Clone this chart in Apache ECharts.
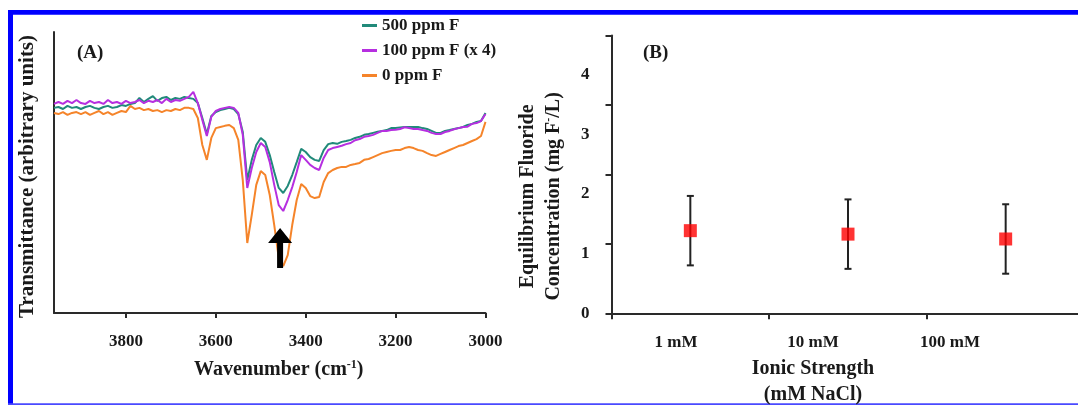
<!DOCTYPE html>
<html>
<head>
<meta charset="utf-8">
<script src="https://cdn.jsdelivr.net/npm/echarts@6/dist/echarts.min.js"></script>
<style>
html,body{margin:0;padding:0;background:#fff;}
#c{width:1078px;height:405px;}
</style>
</head>
<body>
<div id="c"></div>
<script>
// ---------- Panel A: IR spectra ----------
const wavenumbers = [3960,3950,3940,3930,3920,3910,3900,3890,3880,3870,3860,3850,3840,3830,3820,3810,3800,3790,3780,3770,3760,3750,3740,3730,3720,3710,3700,3690,3680,3670,3660,3650,3640,3630,3620,3610,3600,3590,3580,3570,3560,3550,3540,3530,3520,3510,3500,3490,3480,3470,3460,3450,3440,3430,3420,3410,3400,3390,3380,3370,3360,3350,3340,3330,3320,3310,3300,3290,3280,3270,3260,3250,3240,3230,3220,3210,3200,3190,3180,3170,3160,3150,3140,3130,3120,3110,3100,3090,3080,3070,3060,3050,3040,3030,3020,3010,3000];

const ppm500 = [73.0,73.3,72.6,73.7,73.0,73.3,72.6,73.3,73.7,73.0,
72.6,73.3,73.7,73.0,73.3,74.0,73.7,74.4,74.7,76.5,
75.1,76.2,77.2,75.5,76.5,76.9,75.8,76.5,76.2,76.9,
76.5,76.2,74.7,69.4,63.7,70.1,71.5,72.2,72.6,73.0,
72.6,70.8,64.4,47.3,54.5,59.8,62.3,60.9,56.2,50.2,
44.5,42.7,45.2,49.1,53.7,58.4,57.3,55.5,54.5,54.1,
58.0,60.1,60.5,60.2,60.9,61.2,61.6,62.3,62.7,63.4,
63.7,64.1,64.5,64.8,65.1,65.8,65.8,66.0,66.2,66.2,
66.2,66.2,65.8,65.5,64.8,64.1,64.1,64.8,65.1,65.5,
65.8,66.2,66.9,67.3,68.0,68.3,71.2];

const ppm100x4 = [74.4,75.1,74.4,75.5,74.7,75.8,74.7,74.4,75.5,74.7,
75.1,74.4,75.8,74.7,75.1,74.4,75.5,74.7,75.1,75.8,
74.7,75.5,75.1,75.8,74.7,76.2,75.1,75.8,75.5,76.2,
76.9,78.7,74.7,68.7,63.0,69.8,71.9,72.6,73.0,73.3,
73.0,71.2,63.4,44.5,51.6,57.3,60.5,59.1,53.7,45.6,
38.4,36.3,40.2,44.8,50.2,56.2,54.5,52.7,51.6,50.9,
55.2,58.0,58.7,59.1,59.5,60.1,60.5,61.5,61.9,62.7,
63.0,63.4,64.1,64.8,64.8,65.1,65.2,65.5,66.1,65.8,
65.5,65.5,65.1,64.8,64.1,63.7,63.7,64.4,64.8,65.4,
65.8,66.2,66.3,67.3,67.6,68.3,70.8];

const ppm0 = [71.2,70.8,71.5,70.5,71.2,71.5,70.8,71.5,70.5,71.2,
71.9,70.8,71.5,70.5,71.2,71.9,71.5,73.7,72.6,73.0,
72.2,72.6,71.9,72.2,71.5,72.2,71.9,72.6,72.2,73.0,
73.0,72.6,69.4,59.8,54.5,62.3,65.8,66.2,66.6,66.9,
65.8,61.6,47.3,24.9,34.9,45.6,50.5,49.1,42.0,31.3,
19.6,16.7,20.6,31.3,40.2,45.9,44.5,41.6,40.9,41.3,
46.6,49.8,50.9,51.6,52.0,52.0,52.7,53.0,53.4,54.5,
54.8,55.5,56.2,56.9,57.3,57.7,58.0,58.0,58.7,59.1,
58.7,58.0,57.7,56.9,56.2,55.9,56.6,57.3,58.0,58.7,
59.4,59.8,60.5,61.2,61.9,63.0,68.0];

const xTicksA = [3000,3200,3400,3600,3800];
const arrowAt = [3457, 23.1];   // annotation arrow position (wavenumber, arbitrary units)

// ---------- Panel B: equilibrium fluoride ----------
const ionicStrength = ['1 mM','10 mM','100 mM'];
const fluorideMean = [1.19, 1.14, 1.07];
const fluorideErr = [0.50, 0.50, 0.50];
const yTicksB = [0,1,2,3,4];

const FONT = "'Liberation Serif','Times New Roman',serif";
const TXT = '#1a1a1a';
const AX = {color:'#2a2a2a', width:2};

const chart = echarts.init(document.getElementById('c'), null, {renderer:'canvas'});

const pair = arr => wavenumbers.map((w,i)=>[w, arr[i]]);

const option = {
  animation:false,
  backgroundColor:'#ffffff',
  textStyle:{fontFamily:FONT, fontWeight:'bold', color:TXT},
  title:[
    {text:'(A)', left:72, top:39, textStyle:{fontFamily:FONT, fontWeight:'bold', fontSize:19, color:TXT}},
    {text:'(B)', left:638, top:39, textStyle:{fontFamily:FONT, fontWeight:'bold', fontSize:19, color:TXT}}
  ],
  legend:{
    orient:'vertical', left:362, top:16.5, padding:0, itemWidth:15, itemHeight:3, itemGap:7, icon:'rect',
    data:['500 ppm F','100 ppm F (x 4)','0 ppm F'],
    textStyle:{fontFamily:FONT, fontWeight:'bold', fontSize:17, lineHeight:18, color:TXT}
  },
  grid:[
    {left:54, top:32, width:431.5, height:281, outerBoundsMode:'none'},
    {left:611.5, top:35.5, width:473, height:277.8, outerBoundsMode:'none'},
    {left:607.5, top:35.5, width:411, height:277.8, outerBoundsMode:'none'}
  ],
  xAxis:[
    {gridIndex:0, type:'value', inverse:true, min:3000, max:3960, interval:200,
     axisLine:{show:true, lineStyle:AX},
     axisTick:{show:true, length:5, customValues:xTicksA, lineStyle:AX},
     axisLabel:{customValues:xTicksA, formatter:v=>String(v), fontFamily:FONT, fontWeight:'bold', fontSize:17, color:TXT, margin:20},
     splitLine:{show:false},
     name:'{a|Wavenumber (cm}{s|-1}{a|)}', nameLocation:'middle', nameGap:46,
     nameTextStyle:{padding:[0,0,0,18], rich:{
       a:{fontFamily:FONT, fontWeight:'bold', fontSize:20, color:TXT},
       s:{fontFamily:FONT, fontWeight:'bold', fontSize:12, color:TXT, padding:[0,0,10,0]}}}
    },
    {gridIndex:1, type:'category', data:ionicStrength, boundaryGap:true,
     axisLine:{show:true, lineStyle:AX},
     axisTick:{show:true, length:6, lineStyle:AX},
     axisLabel:{show:false}, splitLine:{show:false}
    },
    {gridIndex:2, type:'category', data:ionicStrength, boundaryGap:true,
     axisLine:{show:false}, axisTick:{show:false},
     axisLabel:{fontFamily:FONT, fontWeight:'bold', fontSize:17, color:TXT, margin:21},
     splitLine:{show:false},
     name:'Ionic Strength\n(mM NaCl)', nameLocation:'middle', nameGap:43,
     nameTextStyle:{fontFamily:FONT, fontWeight:'bold', fontSize:20, lineHeight:26, color:TXT}
    }
  ],
  yAxis:[
    {gridIndex:0, type:'value', min:0, max:100, position:'left',
     axisLine:{show:true, lineStyle:AX}, axisTick:{show:false}, axisLabel:{show:false}, splitLine:{show:false},
     name:'Transmittance (arbitrary units)', nameLocation:'middle', nameRotate:90, nameGap:16,
     nameTextStyle:{fontFamily:FONT, fontWeight:'bold', fontSize:21, color:TXT, padding:[0,8,0,0]}
    },
    {gridIndex:1, type:'value', min:0, max:4, interval:1, position:'left',
     axisLine:{show:true, lineStyle:AX}, axisTick:{show:true, length:6, lineStyle:AX},
     axisLabel:{show:false}, splitLine:{show:false}
    },
    {gridIndex:1, type:'value', min:0, max:4.66, interval:1, position:'left',
     axisLine:{show:false}, axisTick:{show:false}, splitLine:{show:false},
     axisLabel:{customValues:yTicksB, fontFamily:FONT, fontWeight:'bold', fontSize:17, color:TXT, margin:22, padding:[4,0,0,0]},
     name:'{a|Equilibrium Fluoride}\n{a|Concentration (mg F}{s|-}{a|/L)}',
     nameLocation:'middle', nameRotate:90, nameGap:44,
     nameTextStyle:{padding:[0,44,0,0], rich:{
       a:{fontFamily:FONT, fontWeight:'bold', fontSize:20, lineHeight:26.7, color:TXT},
       s:{fontFamily:FONT, fontWeight:'bold', fontSize:12, lineHeight:26.7, color:TXT, padding:[0,0,10,0]}}}
    },
    {gridIndex:2, type:'value', min:0, max:4, show:false}
  ],
  series:[
    {name:'0 ppm F', type:'line', xAxisIndex:0, yAxisIndex:0, data:pair(ppm0), symbol:'none',
     lineStyle:{width:2, color:'#f5842a'}, itemStyle:{color:'#f5842a'}},
    {name:'500 ppm F', type:'line', xAxisIndex:0, yAxisIndex:0, data:pair(ppm500), symbol:'none',
     lineStyle:{width:2, color:'#218a7a'}, itemStyle:{color:'#218a7a'}},
    {name:'100 ppm F (x 4)', type:'line', xAxisIndex:0, yAxisIndex:0, data:pair(ppm100x4), symbol:'none',
     lineStyle:{width:2, color:'#b62fe0'}, itemStyle:{color:'#b62fe0'},
     markPoint:{silent:true, symbol:'path://M12,0 L24,15 L15,15 L15,40 L9,40 L9,15 L0,15 Z',
       symbolSize:[24,40], itemStyle:{color:'#000'}, label:{show:false},
       data:[{coord:arrowAt}]}
    },
    {type:'custom', xAxisIndex:1, yAxisIndex:1, z:2,
     data:ionicStrength.map((c,i)=>[i, fluorideMean[i]-fluorideErr[i], fluorideMean[i]+fluorideErr[i]]),
     renderItem:function(params, api){
       const lo = api.coord([api.value(0), api.value(1)]);
       const hi = api.coord([api.value(0), api.value(2)]);
       const w = 3.5;
       const st = {stroke:'#222', lineWidth:2};
       return {type:'group', children:[
         {type:'line', shape:{x1:lo[0], y1:lo[1], x2:hi[0], y2:hi[1]}, style:st},
         {type:'line', shape:{x1:lo[0]-w, y1:lo[1], x2:lo[0]+w, y2:lo[1]}, style:st},
         {type:'line', shape:{x1:hi[0]-w, y1:hi[1], x2:hi[0]+w, y2:hi[1]}, style:st}
       ]};
     }
    },
    {type:'scatter', xAxisIndex:1, yAxisIndex:1, z:3, data:fluorideMean, symbol:'rect', symbolSize:13,
     itemStyle:{color:'#ff0000'}}
  ],
  graphic:[
    {type:'rect', shape:{x:8, y:10, width:1070, height:4.7}, style:{fill:'#0000ff'}, silent:true},
    {type:'rect', shape:{x:8, y:10, width:5, height:394}, style:{fill:'#0000ff'}, silent:true},
    {type:'rect', shape:{x:8, y:403.3, width:1070, height:1.7}, style:{fill:'#4a4aff'}, silent:true}
  ]
};
chart.setOption(option);
</script>
</body>
</html>
